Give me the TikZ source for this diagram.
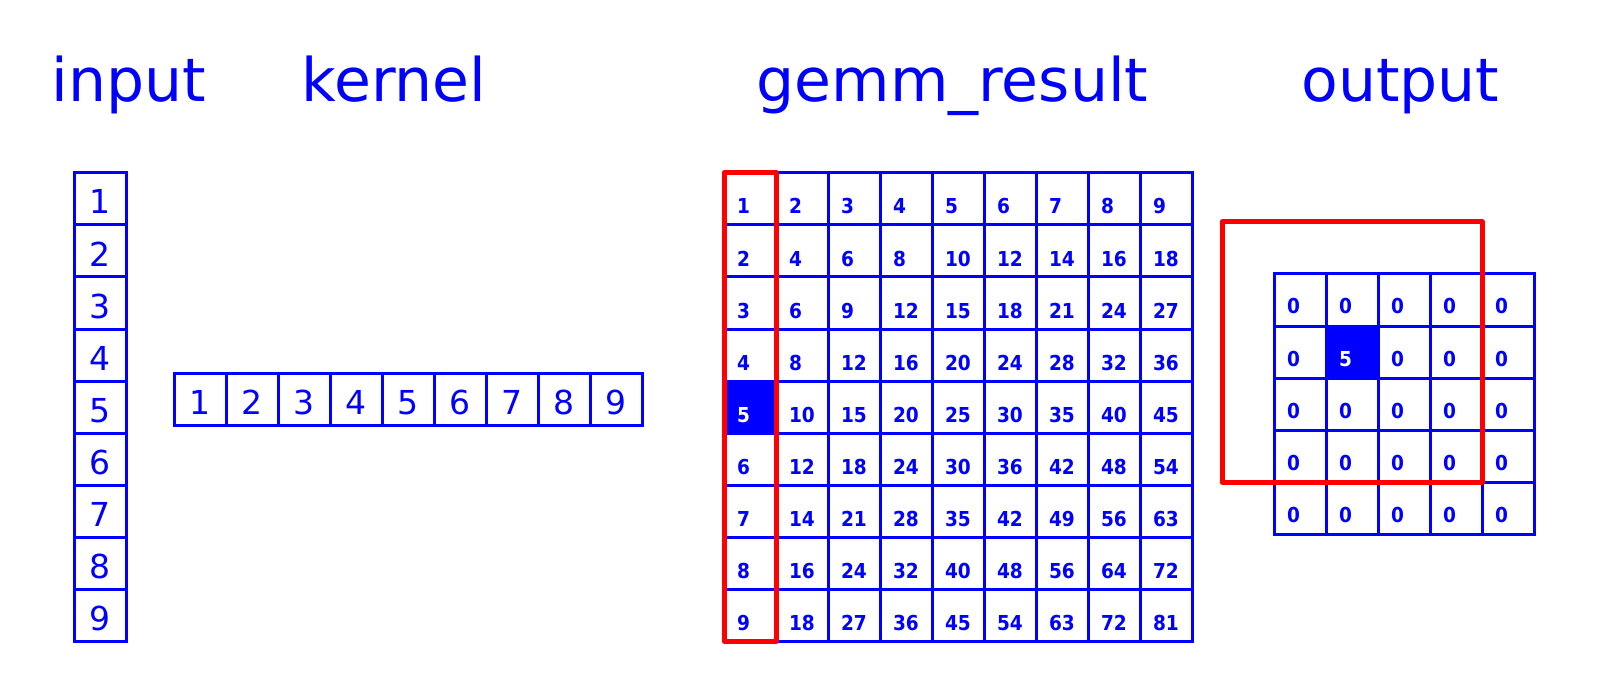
\documentclass[tikz,border=0pt]{standalone}
\usepackage{fontspec}
\usetikzlibrary{calc}
\newfontfamily\dvs{DejaVu Sans}
\newcommand\ttlfont{\dvs\fontsize{30pt}{36pt}\selectfont}
\newcommand\bigcellfont{\dvs\fontsize{16.5pt}{20pt}\selectfont}
\newcommand\gemmfont{\dvs\bfseries\fontsize{10.3pt}{12pt}\selectfont}
\begin{document}
\begin{tikzpicture}[x=0.5pt,y=-0.5pt]
\useasboundingbox (0,0) rectangle (1600,700);
\tikzset{
 cell/.style={draw=blue, line width=1.5pt, minimum width=26pt, minimum height=26pt,
   inner sep=0pt, outer sep=0pt, text=blue},
 bigcell/.style={cell, font=\bigcellfont, text height=15pt, text depth=0pt},
 gcell/.style={cell, font=\gemmfont, text height=15pt, text depth=0pt,
   text width=13pt, align=left, inner xsep=6.5pt},
 ocell/.style={gcell, text height=14pt},
 hl/.style={fill=blue, text=white},
 ttl/.style={text=blue, font=\ttlfont, inner sep=0pt, anchor=base},
 redbox/.style={draw=red, line width=2.5pt, line join=round}
}
% titles
\node[ttl] (t-input) at (128.5,102) {input};
\node[ttl] (t-kernel) at (394,102) {kernel};
\node[ttl] (t-gemm) at (952.5,102) {gemm\_result};
\node[ttl] (t-output) at (1400.5,102) {output};
% input column and kernel row
\foreach \i in {1,...,9}{
  \node[bigcell] (in-\i) at (100,{147+52*\i}) {\i};
  \node[bigcell] (k-\i) at ({148+52*\i},399) {\i};
}
% gemm result
\foreach \r in {1,...,9}{
  \foreach \c in {1,...,9}{
    \pgfmathtruncatemacro\v{\r*\c}
    \ifnum\r=5 \ifnum\c=1 \def\st{hl}\else\def\st{}\fi\else\def\st{}\fi
    \node[gcell,\st] (g-\r-\c) at ({698+52*\c},{147+52*\r}) {\scalebox{0.9}[1]{\v}};
  }
}
% output
\foreach \r in {1,...,5}{
  \foreach \c in {1,...,5}{
    \ifnum\r=2 \ifnum\c=2 \def\st{hl}\def\v{5}\else\def\st{}\def\v{0}\fi\else\def\st{}\def\v{0}\fi
    \node[ocell,\st] (o-\r-\c) at ({1248+52*\c},{248+52*\r}) {\scalebox{0.9}[1]{\v}};
  }
}
% red frames
\draw[redbox] (g-1-1.north west) rectangle (g-9-1.south east);
\draw[redbox] ($(o-1-1.north west)+(-52,-52)$) rectangle (o-4-4.south east);
\end{tikzpicture}
\end{document}
